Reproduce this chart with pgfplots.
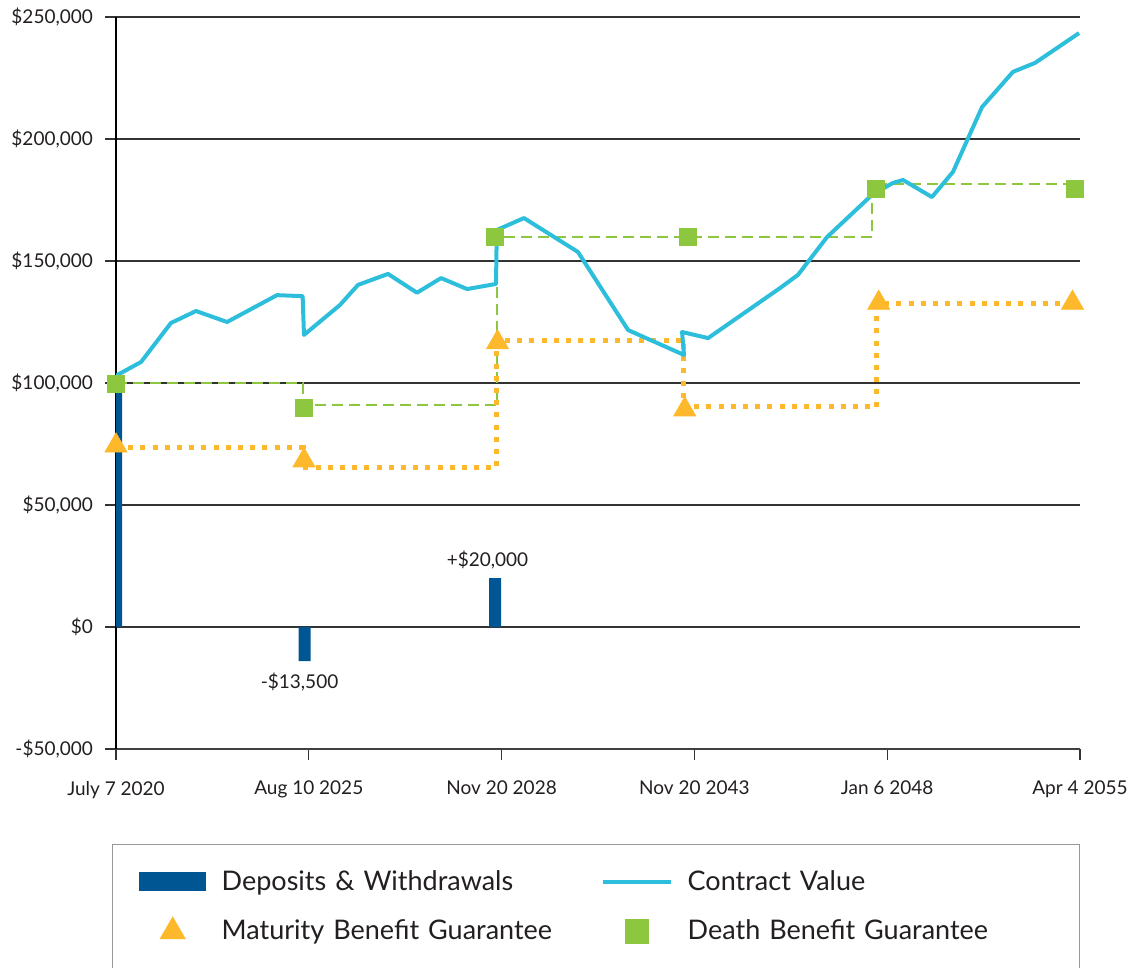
\documentclass[border=0pt]{standalone}
\usepackage{fontspec}
\setmainfont{Lato}
\usepackage{pgfplots}
\pgfplotsset{compat=1.18}
\definecolor{depblue}{RGB}{0,85,147}
\definecolor{cvblue}{RGB}{44,190,218}
\definecolor{mbyellow}{RGB}{253,185,43}
\definecolor{dbgreen}{RGB}{141,198,63}
\definecolor{txt}{RGB}{35,31,32}
\begin{document}
\begin{tikzpicture}
\begin{axis}[
  name=ax,
  scale only axis,
  width=482pt, height=366pt,
  xmin=0, xmax=5, ymin=-50000, ymax=250000,
  axis x line=bottom, axis y line=left,
  axis line style={-},
  x axis line style={draw=black!75, line width=1.2pt},
  y axis line style={draw=black, line width=1pt},
  xtick={0,1,2,3,4,5},
  xticklabels={July 7 2020, Aug 10 2025, Nov 20 2028, Nov 20 2043, Jan 6 2048, Apr 4 2055},
  ytick={-50000,0,50000,100000,150000,200000,250000},
  yticklabels={{-\$50,000},{\$0},{\$50,000},{\$100,000},{\$150,000},{\$200,000},{\$250,000}},
  scaled y ticks=false,
  tick align=outside,
  major tick length=5.5pt,
  tick style={draw=black!80, line width=0.6pt},
  ymajorgrids,
  grid style={draw=black!80, line width=0.6pt},
  ticklabel style={font=\fontsize{9.5}{11}\selectfont, text=txt},
  xticklabel style={yshift=-7pt},
  yticklabel style={xshift=-2.5pt},
  legend columns=2,
  legend cell align=left,
  legend style={at={(0,0)}, anchor=north west, xshift=-2pt, yshift=-47.5pt,
    draw=black!40, line width=0.7pt, inner xsep=13pt, inner ysep=12.5pt,
    font=\fontsize{13.5}{16}\selectfont, text=txt,
    nodes={text width=183pt, inner sep=0pt},
    row sep=9pt,
    /tikz/column 1/.style={column sep=7.5pt},
    /tikz/column 2/.style={column sep=6.5pt},
    /tikz/column 3/.style={column sep=7.5pt}},
]
% Deposits & Withdrawals
\addplot[ybar, bar shift=0pt, bar width=6pt, fill=depblue, draw=none,
  legend image code/.code={\path[draw=none,fill=none] (0pt,-9pt) rectangle (34pt,6pt); \fill[depblue] (0pt,-4.75pt) rectangle (33.5pt,4.75pt);}]
  coordinates {(0,100000) (0.978,-14000) (1.966,20000)};
\addlegendentry{Deposits \& Withdrawals}
% Death benefit guarantee line
\addplot[dbgreen, line width=1pt, dash pattern=on 5.5pt off 3pt, forget plot]
  coordinates {(0,100000) (0.970,100000) (0.970,91000) (1.976,91000) (1.976,160000) (3.921,160000) (3.921,181500) (5,181500)};
% Maturity benefit guarantee line
\addplot[mbyellow, line width=2.5pt, dash pattern=on 2.5pt off 3.6pt, forget plot]
  coordinates {(0,73400) (0.970,73400) (0.970,65200) (1.976,65200) (1.976,117600) (2.946,117600) (2.946,90200) (3.947,90200) (3.947,132400) (4.974,132400)};
% Contract value
\addplot[cvblue, line width=2pt, line join=round,
  legend image code/.code={\path[draw=none,fill=none] (0pt,-9pt) rectangle (34pt,6pt); \draw[cvblue, line width=2pt] (0pt,0pt) -- (34pt,0pt);}]
  coordinates {
  (0,103000) (0.130,108600) (0.285,124600) (0.415,129500) (0.576,125000)
  (0.835,136000) (0.968,135600) (0.975,119700) (1.162,132000) (1.255,140200)
  (1.411,144700) (1.561,137000) (1.686,143000) (1.821,138500) (1.971,140600)
  (1.975,162700) (2.116,167600) (2.396,153700) (2.656,121700) (2.946,111500)
  (2.936,120900) (3.071,118400) (3.444,138900) (3.537,144300) (3.688,159800)
  (3.921,177100) (4.030,182000) (4.082,183200) (4.232,176200) (4.341,186500)
  (4.492,213100) (4.652,227500) (4.767,231200) (4.995,243400)};
\addlegendentry{Contract Value}
% Maturity benefit markers
\addplot[only marks, mark=triangle*, mark size=6.35pt, color=mbyellow,
  legend image code/.code={\path[draw=none,fill=none] (0pt,-9pt) rectangle (34pt,6pt); \draw[mbyellow, fill=mbyellow, mark=triangle*, mark size=6.9pt] plot coordinates {(17pt,0pt)};}]
  coordinates {(0,74300) (0.975,68200) (1.979,116600) (2.950,89100) (3.956,132800) (4.961,132800)};
\addlegendentry{Maturity Benefit Guarantee}
% Death benefit markers
\addplot[only marks, mark=square*, mark size=4.25pt, color=dbgreen,
  legend image code/.code={\path[draw=none,fill=none] (0pt,-9pt) rectangle (34pt,6pt); \draw[dbgreen, fill=dbgreen, mark=square*, mark size=5.75pt] plot coordinates {(17pt,0pt)};}]
  coordinates {(0,99500) (0.973,89600) (1.963,160000) (2.964,160000) (3.939,179700) (4.971,179700)};
\addlegendentry{Death Benefit Guarantee}
\node[font=\fontsize{9.5}{11}\selectfont, text=txt] at (axis cs:0.952,-22540) {-\$13,500};
\node[font=\fontsize{9.5}{11}\selectfont, text=txt] at (axis cs:1.927,27660) {+\$20,000};
\end{axis}
\pgfresetboundingbox
\useasboundingbox ([shift={(-58pt,-109pt)}]ax.south west) rectangle ([shift={(28.5pt,8.5pt)}]ax.north east);
\end{tikzpicture}
\end{document}
